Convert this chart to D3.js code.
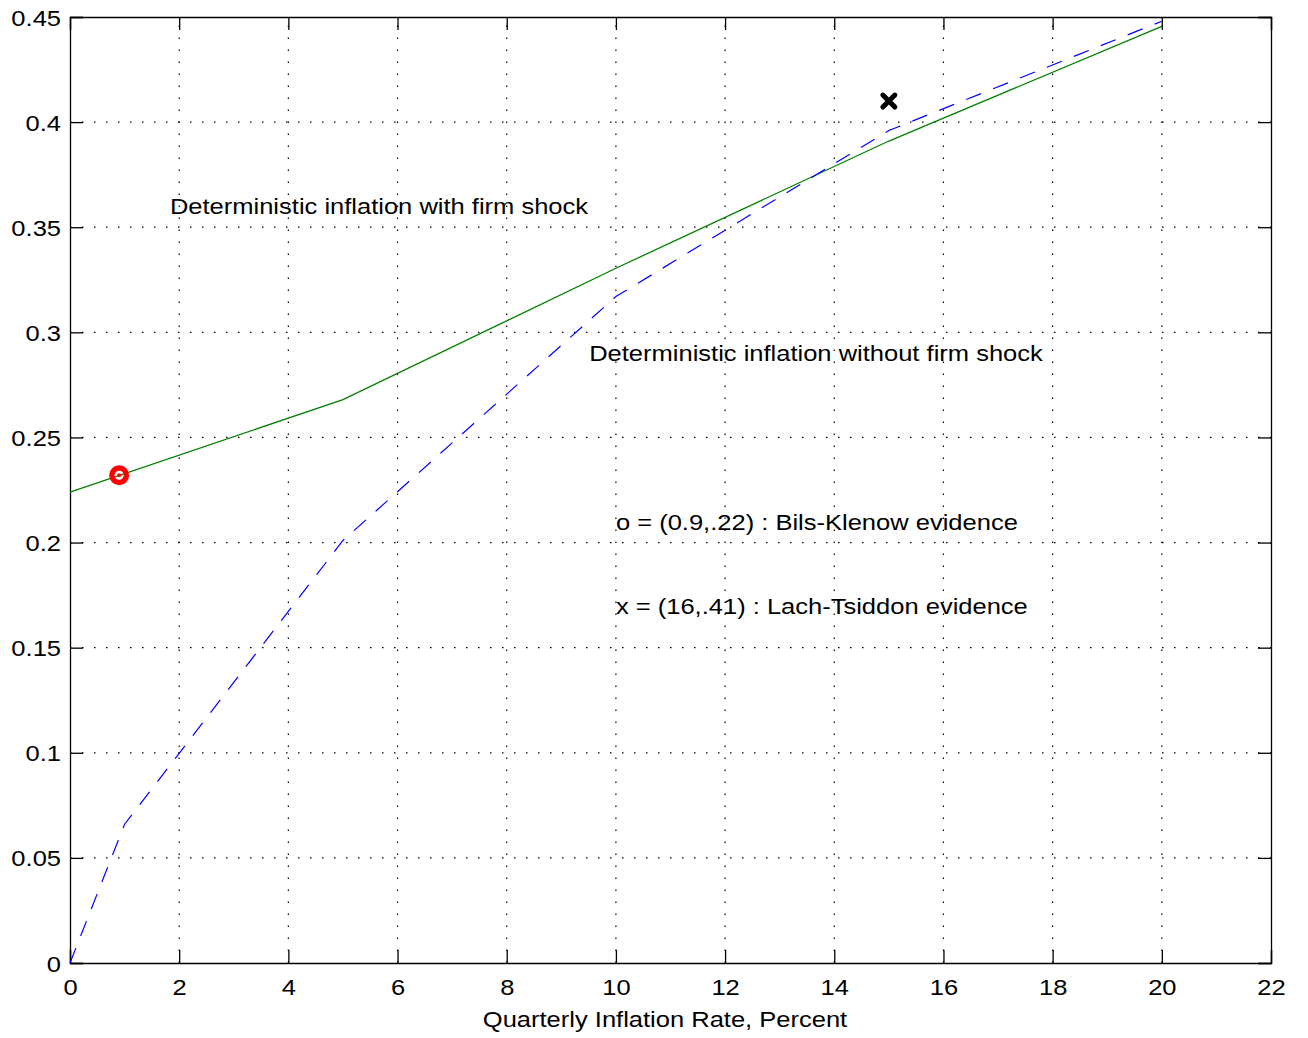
<!DOCTYPE html>
<html><head><meta charset="utf-8">
<script src="https://cdn.jsdelivr.net/npm/d3@7"></script>
<style>body{margin:0;background:#fff}text{font-family:"Liberation Sans",Arial,sans-serif}</style>
</head><body>
<svg id="c" width="1308" height="1038"></svg>
<script>
const withShockX = [0, 5, 10, 15, 20];
const withShockY = [0.224, 0.268, 0.3305, 0.391, 0.4455];
const withoutShockX = [0, 1, 5, 10, 15, 20];
const withoutShockY = [0, 0.066, 0.201, 0.317, 0.396, 0.448];
const bilsKlenow = [0.9, 0.232];
const lachTsiddon = [15, 0.41];
const xTicks = [0,2,4,6,8,10,12,14,16,18,20,22];
const yTicks = [0,0.05,0.1,0.15,0.2,0.25,0.3,0.35,0.4,0.45];
const yTickLabels = ["0","0.05","0.1","0.15","0.2","0.25","0.3","0.35","0.4","0.45"];
const annotations = [
  {x: 1.83, y: 0.3563, t: "Deterministic inflation with firm shock"},
  {x: 9.51, y: 0.2864, t: "Deterministic inflation without firm shock"},
  {x: 10.0, y: 0.206, t: "o = (0.9,.22) : Bils-Klenow evidence"},
  {x: 10.0, y: 0.166, t: "x = (16,.41) : Lach-Tsiddon evidence"}
];
const xLabel = "Quarterly Inflation Rate, Percent";

const L=70,R=1271,T=17,B=963;
const svg=d3.select("#c");
const x=d3.scaleLinear().domain([0,22]).range([L,R]);
const y=d3.scaleLinear().domain([0,0.45]).range([B,T]);
const fs=22, sx=1.16;

// grid
const g=svg.append("g");
g.selectAll("line.gx").data(xTicks.slice(1,-1)).join("line")
 .attr("x1",d=>x(d)).attr("x2",d=>x(d)).attr("y1",B).attr("y2",T)
 .attr("stroke","#000").attr("stroke-width",1.2).attr("stroke-dasharray","1.5,10.5");
g.selectAll("line.gy").data(yTicks.slice(1,-1)).join("line")
 .attr("y1",d=>y(d)).attr("y2",d=>y(d)).attr("x1",L).attr("x2",R)
 .attr("stroke","#000").attr("stroke-width",1.2).attr("stroke-dasharray","1.5,10.5");

// axes
const ax=svg.append("g").attr("transform",`translate(0,${B})`)
 .call(d3.axisBottom(x).tickValues(xTicks).tickSize(-13).tickFormat(d3.format("d")));
const ay=svg.append("g").attr("transform",`translate(${L},0)`)
 .call(d3.axisLeft(y).tickValues(yTicks).tickSize(-13).tickFormat((d,i)=>yTickLabels[i]));
const at=svg.append("g").attr("transform",`translate(0,${T})`)
 .call(d3.axisTop(x).tickValues(xTicks).tickSize(-13).tickFormat(""));
const ar=svg.append("g").attr("transform",`translate(${R},0)`)
 .call(d3.axisRight(y).tickValues(yTicks).tickSize(-13).tickFormat(""));
[ax,ay,at,ar].forEach(a=>{
  a.attr("font-size",fs).attr("font-family","Liberation Sans, Arial, sans-serif");
  a.selectAll("path").attr("stroke","#000").attr("stroke-width",1.3);
  a.selectAll("line").attr("stroke","#000").attr("stroke-width",1.3);
  a.selectAll("text").attr("font-size",fs).attr("fill","#000");
});
ax.selectAll("text").attr("dy",null).attr("y",32).attr("transform",`scale(${sx},1)`);
ay.selectAll("text").attr("dy",null).attr("y",8).attr("x",-9/sx).attr("transform",`scale(${sx},1)`);

// lines
const lw=d3.line().x(d=>x(d[0])).y(d=>y(d[1]));
svg.append("path").datum(withShockX.map((v,i)=>[v,withShockY[i]])).attr("d",lw)
 .attr("fill","none").attr("stroke","#008000").attr("stroke-width",1.3);
svg.append("path").datum(withoutShockX.map((v,i)=>[v,withoutShockY[i]])).attr("d",lw)
 .attr("fill","none").attr("stroke","#0000ff").attr("stroke-width",1.2).attr("stroke-dasharray","16,13");

// markers
svg.append("circle").attr("cx",x(bilsKlenow[0])).attr("cy",y(bilsKlenow[1])).attr("r",7.3)
 .attr("fill","none").attr("stroke","#ff0000").attr("stroke-width",5.4);
svg.append("circle").attr("cx",x(bilsKlenow[0])).attr("cy",y(bilsKlenow[1])).attr("r",2).attr("fill","#ff0000");
const cx=x(lachTsiddon[0]), cy=y(lachTsiddon[1]), s=6;
svg.append("path").attr("d",`M${cx-s},${cy-s}L${cx+s},${cy+s}M${cx-s},${cy+s}L${cx+s},${cy-s}`)
 .attr("stroke","#000").attr("stroke-width",5).attr("stroke-linecap","round");

// annotations
svg.selectAll("text.ann").data(annotations).join("text").attr("class","ann")
 .attr("transform",d=>`translate(${x(d.x)},${y(d.y)}) scale(${sx},1)`)
 .attr("font-size",fs).attr("fill","#000").text(d=>d.t);

svg.append("text").attr("transform",`translate(665,1027) scale(${sx},1)`)
 .attr("text-anchor","middle").attr("font-size",fs).text(xLabel);
</script>
</body></html>
